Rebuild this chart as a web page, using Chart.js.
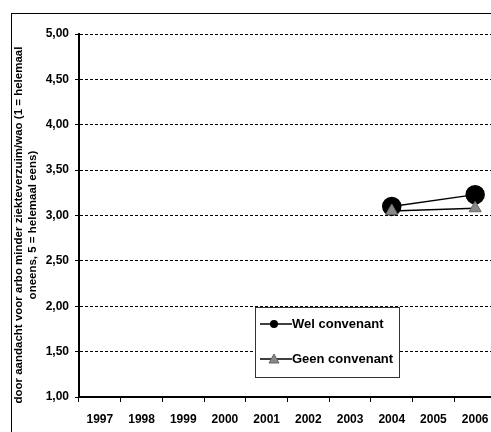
<!DOCTYPE html>
<html>
<head>
<meta charset="utf-8">
<script src="https://cdn.jsdelivr.net/npm/chart.js@4.4.0/dist/chart.umd.min.js"></script>
<style>
	body { margin:0; background:#fff; overflow:hidden; }
	#frame { position:absolute; left:11px; top:13px; width:600px; height:600px; border:1px solid #000; }
	#wrap { position:absolute; left:0; top:0; width:510px; height:450px; }
</style>
</head>
<body>
<div id="frame"></div>
<div id="wrap"><canvas id="trendChart"></canvas></div>
<script>
// jaren op de x-as
var years = ['1997', '1998', '1999', '2000', '2001', '2002', '2003', '2004', '2005', '2006'];
// gemiddelde scores per groep (alleen 2004 en 2006 gemeten)
var welConvenant = [null, null, null, null, null, null, null, 3.10, null, 3.23];
var geenConvenant = [null, null, null, null, null, null, null, 3.05, null, 3.08];
// titel y-as (spaties achteraan schuiven de tekst iets naar beneden)
var yTitle = ['door aandacht voor arbo minder ziekteverzuim/wao (1 = helemaal      ', 'oneens, 5 = helemaal eens)      '];

var FONT = "'Liberation Sans', Arial, sans-serif";

//legenda zelf tekenen, binnen het plotvlak
var boxLegend = {
	id: 'boxLegend',
	afterDraw: function(chart){
		var ctx = chart.ctx;
		var x = 255, y = 307, w = 144, h = 70;
		ctx.save();
		ctx.fillStyle = '#fff';
		ctx.fillRect(x, y, w, h);
		ctx.strokeStyle = '#333';
		ctx.lineWidth = 1;
		ctx.strokeRect(x + 0.5, y + 0.5, w, h);
		var rows = [17, 52];
		chart.data.datasets.forEach(function(ds, i){
			var ry = y + rows[i];
			ctx.strokeStyle = ds.borderColor;
			ctx.lineWidth = 1.5;
			ctx.beginPath();
			ctx.moveTo(x + 5, ry);
			ctx.lineTo(x + 37, ry);
			ctx.stroke();
			ctx.fillStyle = ds.pointBackgroundColor;
			ctx.strokeStyle = ds.pointBorderColor;
			ctx.lineWidth = 1;
			if (ds.pointStyle === 'triangle') {
				ctx.beginPath();
				ctx.moveTo(x + 19, ry - 5);
				ctx.lineTo(x + 24, ry + 4);
				ctx.lineTo(x + 14, ry + 4);
				ctx.closePath();
				ctx.fill();
				ctx.stroke();
			} else {
				ctx.beginPath();
				ctx.arc(x + 19, ry, 4, 0, Math.PI * 2);
				ctx.fill();
			}
			ctx.fillStyle = '#000';
			ctx.font = 'bold 13px ' + FONT;
			ctx.textBaseline = 'middle';
			ctx.fillText(ds.label, x + 37, ry);
		});
		ctx.restore();
	}
};

var ctx = document.getElementById('trendChart').getContext('2d');
var chart = new Chart(ctx, {
	type: 'line',
	data: {
		labels: years,
		datasets: [{
			label: 'Wel convenant',
			data: welConvenant,
			borderColor: '#000',
			borderWidth: 1.5,
			pointStyle: 'circle',
			pointRadius: 9,
			pointBackgroundColor: '#000',
			pointBorderColor: '#000',
			spanGaps: true,
			order: 1
		}, {
			label: 'Geen convenant',
			data: geenConvenant,
			borderColor: '#000',
			borderWidth: 1.5,
			pointStyle: 'triangle',
			pointRadius: 7,
			pointBackgroundColor: '#888',
			pointBorderColor: '#666',
			pointBorderWidth: 1,
			spanGaps: true,
			order: 0
		}]
	},
	options: {
		responsive: true,
		maintainAspectRatio: false,
		animation: false,
		devicePixelRatio: 1,
		layout: { padding: { left: 0, top: 34, right: 14, bottom: 0 } },
		plugins: {
			legend: { display: false },
			tooltip: { enabled: false }
		},
		scales: {
			x: {
				offset: true,
				grid: { display: true, drawOnChartArea: false, drawTicks: true, tickLength: 5, offset: true, color: '#000', lineWidth: 1 },
				border: { display: true, color: '#000', width: 2 },
				ticks: { color: '#000', padding: 10, maxRotation: 0, autoSkip: false, font: { family: FONT, size: 12, weight: 'bold' } },
				afterFit: function(scale){ scale.height = 53; }
			},
			y: {
				min: 1,
				max: 5,
				grid: { color: '#000', lineWidth: 1, tickLength: 4, tickBorderDash: [], tickWidth: 1 },
				border: { display: true, color: '#000', width: 2, dash: [3, 2] },
				ticks: {
					stepSize: 0.5,
					color: '#000',
					padding: 6,
					font: { family: FONT, size: 12, weight: 'bold' },
					callback: function(v){ return v.toFixed(2).replace('.', ','); }
				},
				title: {
					display: true,
					text: yTitle,
					color: '#000',
					padding: { top: 12, bottom: 0 },
					font: { family: FONT, size: 11.5, weight: 'bold', lineHeight: 1.2 }
				},
				afterFit: function(scale){ scale.width = 79; }
			}
		}
	},
	plugins: [boxLegend]
});
</script>
</body>
</html>
